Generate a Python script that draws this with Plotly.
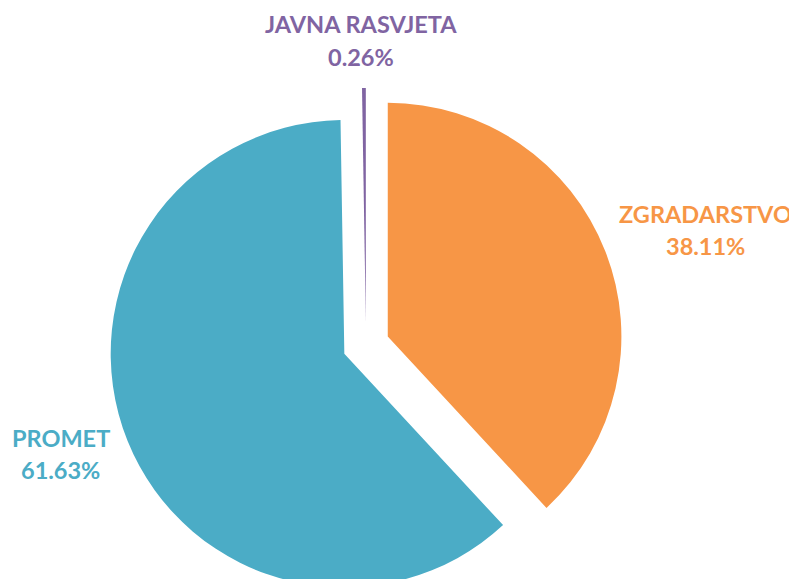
import plotly.graph_objects as go

categories = ["ZGRADARSTVO", "PROMET", "JAVNA RASVJETA"]
values = [38.11, 61.63, 0.26]
colors = ["#F79646", "#4BACC6", "#8064A2"]

# page body has an 8px margin; figure coordinates are shifted accordingly
OFF = 8
# label placement in page pixels: (x centre, name line y, percent line y)
label_pos_px = [(705, 216.5, 248.5), (61, 440, 472.5), (361, 26.5, 59)]

W, H = 797, 594
T = 80
PH = H - T

total = sum(values)

fig = go.Figure(go.Pie(
    labels=categories,
    values=values,
    sort=False,
    direction="clockwise",
    rotation=0,
    pull=[0.1, 0.1, 0.1],
    marker=dict(colors=colors, line=dict(width=0)),
    textinfo="none",
    showlegend=False,
    hoverinfo="label+percent",
    domain=dict(x=[0.1192, 0.7792], y=[0, 1]),
))


def to_paper(px, py):
    return (px - OFF) / W, 1 - (py - OFF - 2.5 - T) / PH


for cat, val, col, (px, py1, py2) in zip(categories, values, colors, label_pos_px):
    for txt, py in ((cat, py1), (f"{val / total * 100:.2f}%", py2)):
        x, y = to_paper(px, py)
        fig.add_annotation(
            x=x, y=y, xref="paper", yref="paper",
            xanchor="center", yanchor="middle", showarrow=False,
            text=txt,
            font=dict(family="Lato", size=23.5, color=col, weight="bold"),
            align="center",
        )

fig.update_layout(
    width=W,
    height=H,
    margin=dict(l=0, r=0, t=T, b=0),
    paper_bgcolor="white",
    plot_bgcolor="white",
)

fig.write_html("out.html")
